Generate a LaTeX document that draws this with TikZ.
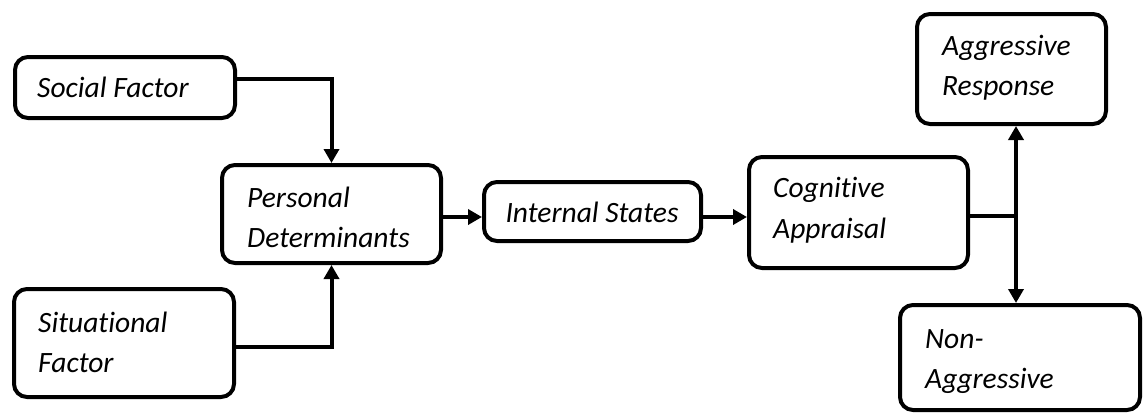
\documentclass[tikz,border=0pt]{standalone}
\usepackage{fontspec}
\setmainfont[Ligatures=NoCommon]{Carlito}
\usetikzlibrary{arrows.meta}
\begin{document}
\begin{tikzpicture}[x=1pt,y=-1pt,
  boxstyle/.style={draw=black,line width=4pt,rounded corners=13pt,fill=white},
  lbl/.style={anchor=base west,inner sep=0pt,font=\fontsize{29.5}{40}\selectfont\itshape},
  arr/.style={line width=4pt,-{Triangle[length=14pt,width=15pt]}},
  plain/.style={line width=3.5pt}]
\useasboundingbox (0,0) rectangle (1144,415);
\newcommand{\mybox}[5]{%
  \node[boxstyle,minimum width=#4-#2,minimum height=#5-#3,inner sep=0pt] (#1) at ({(#2+#4)/2},{(#3+#5)/2}) {};}
\mybox{social}{15}{57}{235}{118}
\mybox{situ}{14}{289}{234}{397}
\mybox{pers}{222}{165}{441}{263}
\mybox{intern}{484}{182}{701}{241}
\mybox{cogn}{749}{157}{968}{268}
\mybox{aggr}{917}{14}{1106}{124}
\mybox{nonag}{900}{305}{1140}{410}
% texts
\node[lbl] (tsocial) at (37,97) {Social Factor};
\node[lbl] (tsitu1) at (38,332) {Situational};
\node[lbl] (tsitu2) at (38,372) {Factor};
\node[lbl] (tpers1) at (247,207) {Personal};
\node[lbl] (tpers2) at (247,247) {Determinants};
\node[lbl,anchor=base] (tintern) at (592,222) {Internal States};
\node[lbl] (tcogn1) at (773,197) {Cognitive};
\node[lbl] (tcogn2) at (773,238) {Appraisal};
\node[lbl] (taggr1) at (942,55) {Aggressive};
\node[lbl] (taggr2) at (942,95) {Response};
\node[lbl] (tnon1) at (925,348) {Non-};
\node[lbl] (tnon2) at (925,388) {Aggressive};
% helper coordinates
\coordinate (ysoc) at (0,79);
\coordinate (ysit) at (0,347);
\coordinate (ymid) at (0,217);
\coordinate (j) at (1016,216);
% connectors
\draw[arr] (social.east |- ysoc) -| (pers.north);
\draw[arr] (situ.east |- ysit) -| (pers.south);
\draw[arr] (pers.east |- ymid) -- (intern.west |- ymid);
\draw[arr] (intern.east |- ymid) -- (cogn.west |- ymid);
\draw[plain] (cogn.east |- j) -- (j);
\draw[arr] (j) -- (aggr.south -| j);
\draw[arr] (j) -- (nonag.north -| j);
\end{tikzpicture}
\end{document}
